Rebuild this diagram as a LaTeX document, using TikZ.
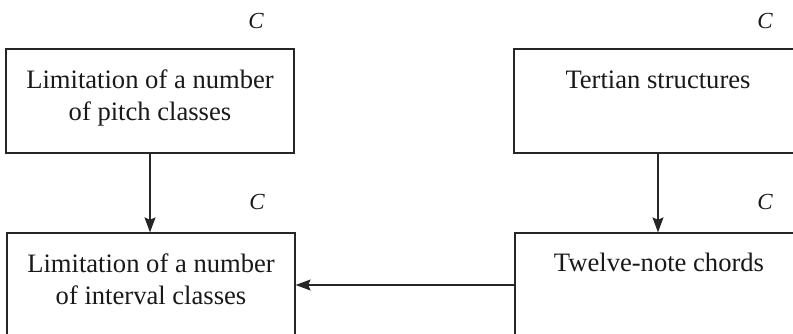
\documentclass[tikz,border=0pt]{standalone}
\usepackage{fontspec}
\setmainfont{Liberation Serif}
\usetikzlibrary{arrows.meta}
\begin{document}
\begin{tikzpicture}[x=0.5pt,y=-0.5pt,
 box/.style={draw=black!85, line width=0.6pt, minimum width=144pt, minimum height=52pt, inner sep=0pt},
 txt/.style={anchor=base, align=center, font=\fontsize{13.3}{16}\selectfont, inner sep=0pt, text=black!90},
 clabel/.style={font=\fontsize{11.5}{13}\selectfont\itshape, inner sep=0pt, text=black!90},
 arr/.style={draw=black!85, line width=0.6pt, -{Stealth[length=7.5pt,width=5.5pt,inset=1.2pt]}}]
\useasboundingbox (0,0) rectangle (793,333);
\clip (0,0) rectangle (793,333);
\node[box] (pitch) at (150,101) {};
\node[box] (tert) at (658,101) {};
\node[box] (inter) at (151,285) {};
\node[box] (twelve) at (659,285) {};
\node[txt] (pitchT) at (150,120) {Limitation of a number\\of pitch classes};
\node[txt] (tertT) at (658,88) {Tertian structures};
\node[txt] (interT) at (151,304) {Limitation of a number\\of interval classes};
\node[txt] (twelveT) at (659,271) {Twelve-note chords};
\node[clabel] (c1) at (256,21) {C};
\node[clabel] (c2) at (765,21) {C};
\node[clabel] (c3) at (257,202) {C};
\node[clabel] (c4) at (765,202) {C};
\draw[arr] (pitch.south) -- (pitch.south |- inter.north);
\draw[arr] (tert.south) -- (tert.south |- twelve.north);
\draw[arr] (twelve.west) -- (inter.east |- twelve.west);
\end{tikzpicture}
\end{document}
